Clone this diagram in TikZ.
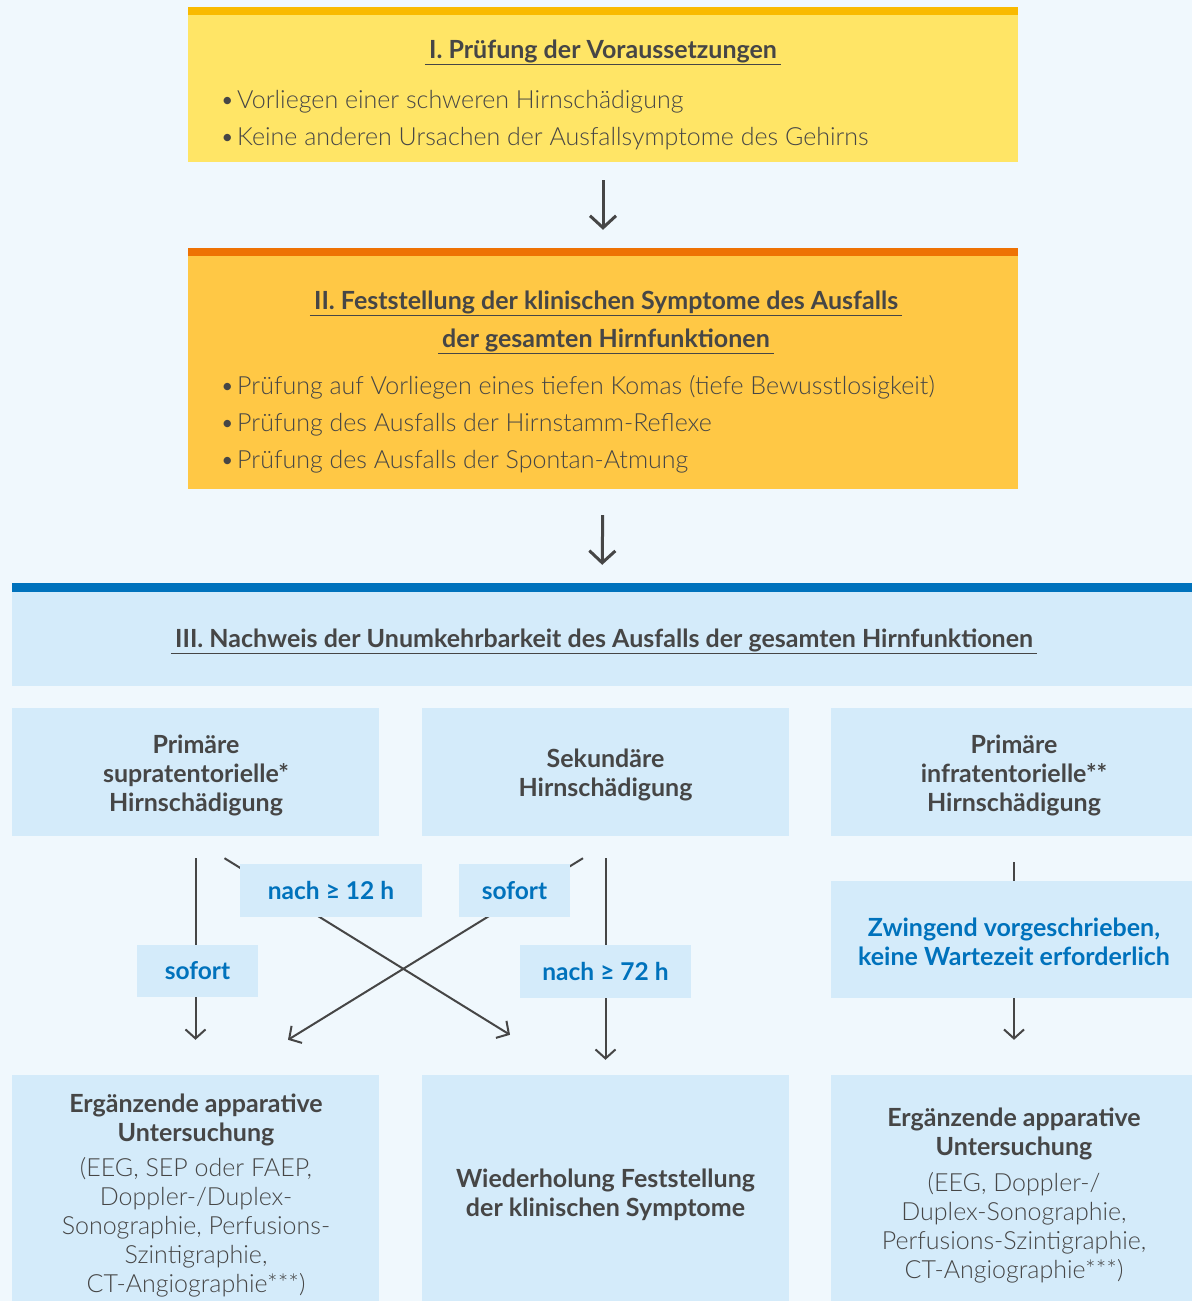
\documentclass[tikz,border=0pt]{standalone}
\usepackage{fontspec}
\setmainfont{Lato}
\newfontfamily\lightfont{Lato Light}
\usetikzlibrary{arrows.meta,calc}
\definecolor{bg}{HTML}{F0F8FD}
\definecolor{yelfill}{HTML}{FFE566}
\definecolor{yelbar}{HTML}{F9BA00}
\definecolor{orfill}{HTML}{FFC845}
\definecolor{orbar}{HTML}{EE7203}
\definecolor{bluefill}{HTML}{D4EBFA}
\definecolor{bluebar}{HTML}{0072BC}
\definecolor{txt}{HTML}{464646}
\definecolor{lbl}{HTML}{0072BC}
\newcommand\ulx[1]{\underline{\,#1\,}}
\newcommand\bul{•\hspace{2.5pt}}
\tikzset{
  panel/.style={rectangle, draw=none, inner sep=0pt},
  head/.style={font=\fontsize{25}{29}\selectfont\bfseries, text=txt, inner sep=0pt, align=center},
  bullet/.style={font=\fontsize{25}{37}\selectfont\lightfont, text=txt, inner sep=0pt, anchor=west, align=left},
  coltxt/.style={font=\fontsize{25}{29}\selectfont\bfseries, text=txt, inner sep=0pt, align=center},
  smalltxt/.style={font=\fontsize{25}{29}\selectfont\lightfont, text=txt, inner sep=0pt, align=center},
  lblbox/.style={rectangle, fill=bluefill, inner sep=0pt, font=\fontsize{24.5}{29}\selectfont\bfseries, text=lbl, align=center},
  bigarrow/.style={draw=txt, line width=3pt, -{Straight Barb[length=12pt,width=26pt,line width=3pt]}},
  conn/.style={draw=txt, line width=2pt, -{Straight Barb[length=9pt,width=20pt,line width=2pt]}},
  plain/.style={draw=txt, line width=2pt}
}
\begin{document}
\begin{tikzpicture}[x=1pt,y=-1pt]
\fill[bg] (0,0) rectangle (1192,1301);
\useasboundingbox (0,0) rectangle (1192,1301);

% Box I
\node[panel, fill=yelfill, minimum width=830pt, minimum height=155pt] (b1) at (603,84.5) {};
\fill[yelbar] (b1.north west) rectangle ($(b1.north east)+(0,8)$);
\node[head] (h1) at (603,52) {\ulx{I. Prüfung der Voraussetzungen}};
\node[bullet] (t1) at (220,120) {\bul Vorliegen einer schweren Hirnschädigung\\\bul Keine anderen Ursachen der Ausfallsymptome des Gehirns};

% Box II
\node[panel, fill=orfill, minimum width=830pt, minimum height=241pt] (b2) at (603,368.5) {};
\fill[orbar] (b2.north west) rectangle ($(b2.north east)+(0,8)$);
\node[head, font=\fontsize{25}{38}\selectfont\bfseries] (h2) at (606,322) {\ulx{II. Feststellung der klinischen Symptome des Ausfalls}\\\ulx{der gesamten Hirnfunktionen}};
\node[bullet] (t2) at (220,424.5) {\bul Prüfung auf Vorliegen eines tiefen Komas (tiefe Bewusstlosigkeit)\\\bul Prüfung des Ausfalls der Hirnstamm-Reflexe\\\bul Prüfung des Ausfalls der Spontan-Atmung};

\draw[bigarrow, shorten <=18pt, shorten >=18pt] (b1.south) -- (b2.north);

% Box III header
\node[panel, fill=bluefill, minimum width=1180pt, minimum height=103pt] (b3) at (602,634.5) {};
\fill[bluebar] (b3.north west) rectangle ($(b3.north east)+(0,9)$);
\node[head] (h3) at (604,641) {\ulx{III. Nachweis der Unumkehrbarkeit des Ausfalls der gesamten Hirnfunktionen}};

\draw[bigarrow, shorten <=26pt, shorten >=18pt] (b2.south) -- (b3.north);

% Column boxes
\node[panel, fill=bluefill, minimum width=367pt, minimum height=128pt] (c1) at (195.5,772) {};
\node[panel, fill=bluefill, minimum width=367pt, minimum height=128pt] (c2) at (605.5,772) {};
\node[panel, fill=bluefill, minimum width=361pt, minimum height=128pt] (c3) at (1011.5,772) {};
\node[coltxt] (c1t) at (196,775) {Primäre\\supratentorielle*\\Hirnschädigung};
\node[coltxt] (c2t) at (605.5,775) {Sekundäre\\Hirnschädigung};
\node[coltxt] (c3t) at (1014,775) {Primäre\\infratentorielle**\\Hirnschädigung};

% Bottom boxes
\node[panel, fill=bluefill, minimum width=367pt, minimum height=226pt] (d1) at (195.5,1188) {};
\node[panel, fill=bluefill, minimum width=367pt, minimum height=226pt] (d2) at (605.5,1188) {};
\node[panel, fill=bluefill, minimum width=361pt, minimum height=226pt] (d3) at (1011.5,1188) {};

\node[coltxt] (d1h) at (196,1119.5) {Ergänzende apparative\\Untersuchung};
\node[smalltxt] (d1t) at (196,1227.5) {(EEG, SEP oder FAEP,\\Doppler-/Duplex-\\Sonographie, Perfusions-\\Szintigraphie,\\CT-Angiographie***)};
\node[coltxt] (d2h) at (605.5,1195) {Wiederholung Feststellung\\der klinischen Symptome};
\node[coltxt] (d3h) at (1014,1133.5) {Ergänzende apparative\\Untersuchung};
\node[smalltxt] (d3t) at (1014,1227.5) {(EEG, Doppler-/\\Duplex-Sonographie,\\Perfusions-Szintigraphie,\\CT-Angiographie***)};

% Right middle box
\node[panel, fill=bluefill, minimum width=361pt, minimum height=117pt] (z) at (1011.5,939.5) {};
\node[font=\fontsize{25}{29}\selectfont\bfseries, text=lbl, align=center, inner sep=0pt] (zt) at (1014,942) {Zwingend vorgeschrieben,\\keine Wartezeit erforderlich};

% Connectors
\draw[conn, shorten <=22pt, shorten >=35pt] (c1.south) -- (d1.north);
\draw[conn, shorten <=22pt, shorten >=15pt] (c2.south) -- (d2.north);
\draw[conn] ($(c1.south)+(29,22)$) -- ($(d2.north)+(-95.5,-40)$);
\draw[conn] ($(c2.south)+(-22.5,22)$) -- ($(d1.north)+(92.5,-35)$);
\draw[plain] ($(c3.south)+(2.5,26)$) -- ($(z.north)+(2.5,0)$);
\draw[conn, shorten >=35pt] ($(z.south)+(2.5,0)$) -- ($(d3.north)+(2.5,0)$);

% Labels
\node[lblbox, minimum width=182pt, minimum height=53pt] (l1) at (331,890.5) {nach ≥ 12 h};
\node[lblbox, minimum width=111pt, minimum height=53pt] (l2) at (514.5,890.5) {sofort};
\node[lblbox, minimum width=121pt, minimum height=52pt] (l3) at (197.5,971) {sofort};
\node[lblbox, minimum width=171pt, minimum height=53pt] (l4) at (605.5,971.5) {nach ≥ 72 h};
\end{tikzpicture}
\end{document}
